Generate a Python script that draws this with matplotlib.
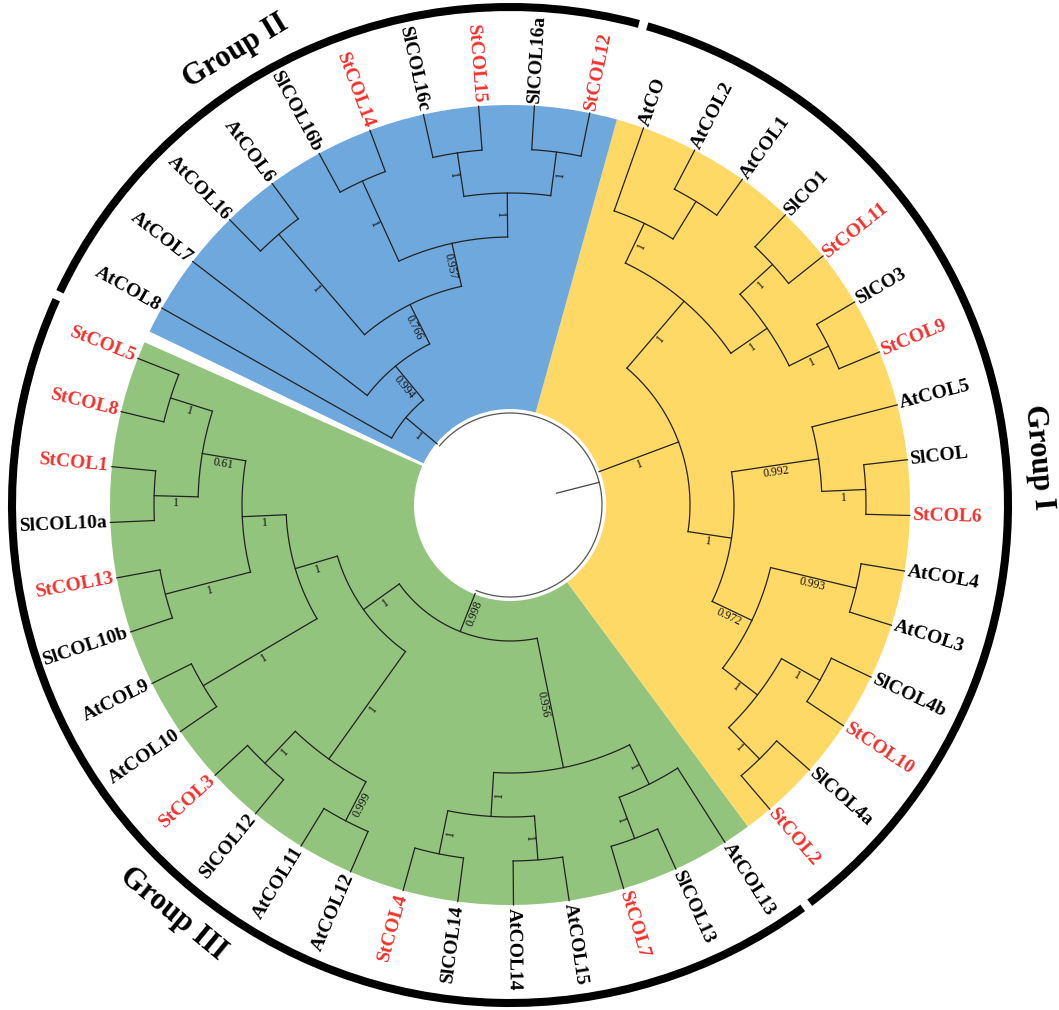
import re
import numpy as np
import matplotlib.pyplot as plt
import matplotlib.patheffects as pe
from matplotlib.patches import Wedge, Arc

# ---------- data ----------
# three clades hanging from the root, children written counter-clockwise
GROUP_NAMES = ["Group III", "Group I", "Group II"]
GROUP_COLORS = ["#93C47D", "#FFD966", "#6FA8DC"]
GROUP_TREES = [
    "((((((StCOL5,StCOL8)1,(StCOL1,SlCOL10a)1)0.61,(StCOL13,SlCOL10b)1)1,(AtCOL9,AtCOL10)1)1,"
    "((StCOL3,SlCOL12)1,(AtCOL11,AtCOL12)0.999)1)1,"
    "(((StCOL4,SlCOL14)1,(AtCOL14,AtCOL15)1)1,((StCOL7,SlCOL13)1,AtCOL13)1)0.956)0.998",
    "(((((StCOL2,SlCOL4a)1,(StCOL10,SlCOL4b)1)1,(AtCOL3,AtCOL4)0.993)0.972,"
    "((StCOL6,SlCOL)1,AtCOL5)0.992)1,"
    "(((StCOL9,SlCO3)1,(StCOL11,SlCO1)1)1,((AtCOL1,AtCOL2),AtCO)1)1)1",
    "((((((StCOL12,SlCOL16a)1,(StCOL15,SlCOL16c)1)1,(StCOL14,SlCOL16b)1)0.957,"
    "(AtCOL6,AtCOL16)1)0.766,AtCOL7)0.994,AtCOL8)1",
]
GROUP_LABEL_ANGLES = [-129.5, 5.2, 121.2]
POTATO_PREFIX = "St"          # potato genes are printed in red

# ---------- layout constants ----------
CX, CY = 510, 505             # centre in pixels
START, STEP = -201.5, 8.0     # first leaf angle, spacing (deg)
R_TIP, LEVEL = 400, 44        # tip radius, one cladogram level
R_RING = 498
SERIF = "Liberation Serif"


def parse_newick(s):
    pos = 0

    def node():
        nonlocal pos
        n = {"children": [], "name": None, "support": None}
        if s[pos] == "(":
            pos += 1
            n["children"].append(node())
            while s[pos] == ",":
                pos += 1
                n["children"].append(node())
            pos += 1
        tok = re.match(r"[^,();]*", s[pos:]).group(0)
        pos += len(tok)
        if n["children"]:
            n["support"] = tok or None
        else:
            n["name"] = tok
        return n

    return node()


root = parse_newick("(" + ",".join(GROUP_TREES) + ");")
leaves = []


def layout(n):
    if not n["children"]:
        n["h"] = 0
        n["a"] = START + STEP * len(leaves)
        leaves.append(n)
    else:
        for c in n["children"]:
            layout(c)
        n["h"] = 1 + max(c["h"] for c in n["children"])
        n["a"] = (n["children"][0]["a"] + n["children"][-1]["a"]) / 2
    n["r"] = R_TIP - LEVEL * n["h"]


layout(root)


def pol(r, a):
    t = np.radians(a)
    return r * np.cos(t), r * np.sin(t)


def upright(a):
    a = (a + 180) % 360 - 180
    if a > 90 or a <= -90:
        return a + 180 if a <= -90 else a - 180, True
    return a, False


fig = plt.figure(figsize=(10.59, 10.10), dpi=100)
ax = fig.add_axes([0, 0, 1, 1])
ax.set_xlim(-CX, 1059 - CX)
ax.set_ylim(CY - 1010, CY)
ax.axis("off")

# ---------- coloured clades + outer ring ----------
spans = []
for g in root["children"]:
    lv = []
    stack = [g]
    while stack:
        n = stack.pop()
        if n["children"]:
            stack.extend(n["children"])
        else:
            lv.append(n["a"])
    spans.append((min(lv), max(lv)))

bounds = [spans[0][0] - 2.5]
for (a0, a1), (b0, b1) in zip(spans[:-1], spans[1:]):
    bounds.append((a1 + b0) / 2)
bounds.append(spans[-1][1] + 3.8)

for i, col in enumerate(GROUP_COLORS):
    ax.add_patch(Wedge((0, 0), R_TIP, bounds[i], bounds[i + 1],
                       width=R_TIP - 96, facecolor=col, edgecolor="none", zorder=1))

ring_b = list(bounds)
ring_b[0] = ring_b[-1] = ((bounds[0] + 360) + bounds[-1]) / 2
ring_b[0] -= 360
for i in range(3):
    ax.add_patch(Arc((0, 0), 2 * R_RING, 2 * R_RING, theta1=ring_b[i] + 0.5,
                     theta2=ring_b[i + 1] - 0.5, lw=5.8, color="black", zorder=2))

for name, a in zip(GROUP_NAMES, GROUP_LABEL_ANGLES):
    x, y = pol(530, a)
    rot = a - 90 if np.sin(np.radians(a)) > -0.2 else a + 90
    ax.text(x, y, name, rotation=rot, ha="center", va="center",
            rotation_mode="anchor", fontsize=22, fontweight="bold",
            family=SERIF, color="black")

# ---------- tree ----------
LINE = dict(color="#222222", lw=0.9, solid_capstyle="projecting", zorder=3)


def draw(n, halo=False):
    for c in n["children"]:
        x0, y0 = pol(n["r"], c["a"])
        x1, y1 = pol(c["r"], c["a"])
        ax.plot([x0, x1], [y0, y1], **LINE)
        if c["support"]:
            rot, _ = upright(c["a"])
            rm = (n["r"] + c["r"]) / 2
            x, y = pol(rm, c["a"])
            t = np.radians(rot)
            x += 7 * np.sin(t)
            y -= 7 * np.cos(t)
            ax.text(x, y, c["support"], rotation=rot, ha="center", va="center",
                    rotation_mode="anchor", fontsize=8.5, family=SERIF,
                    color="#111111", zorder=4)
        draw(c)
    if n["children"]:
        t = np.radians(np.linspace(n["children"][0]["a"], n["children"][-1]["a"], 300))
        kw = dict(LINE)
        if halo:
            kw["color"] = "#555555"
            kw["path_effects"] = [pe.withStroke(linewidth=3.5, foreground="white")]
        ax.plot(n["r"] * np.cos(t), n["r"] * np.sin(t), **kw)


draw(root, halo=True)
x0, y0 = pol(root["r"] - LEVEL, root["a"])
x1, y1 = pol(root["r"], root["a"])
ax.plot([x0, x1], [y0, y1], color="#444444", lw=0.9, zorder=3)

# ---------- leaf labels ----------
for lf in leaves:
    rot, flip = upright(lf["a"])
    x, y = pol(R_TIP + 3, lf["a"])
    col = "#F2302C" if lf["name"].startswith(POTATO_PREFIX) else "black"
    ax.text(x, y, lf["name"], rotation=rot, ha="right" if flip else "left",
            va="center", rotation_mode="anchor", fontsize=14,
            fontweight="bold", family=SERIF, color=col, zorder=4)

fig.savefig("out.png", dpi=100, facecolor="white")
